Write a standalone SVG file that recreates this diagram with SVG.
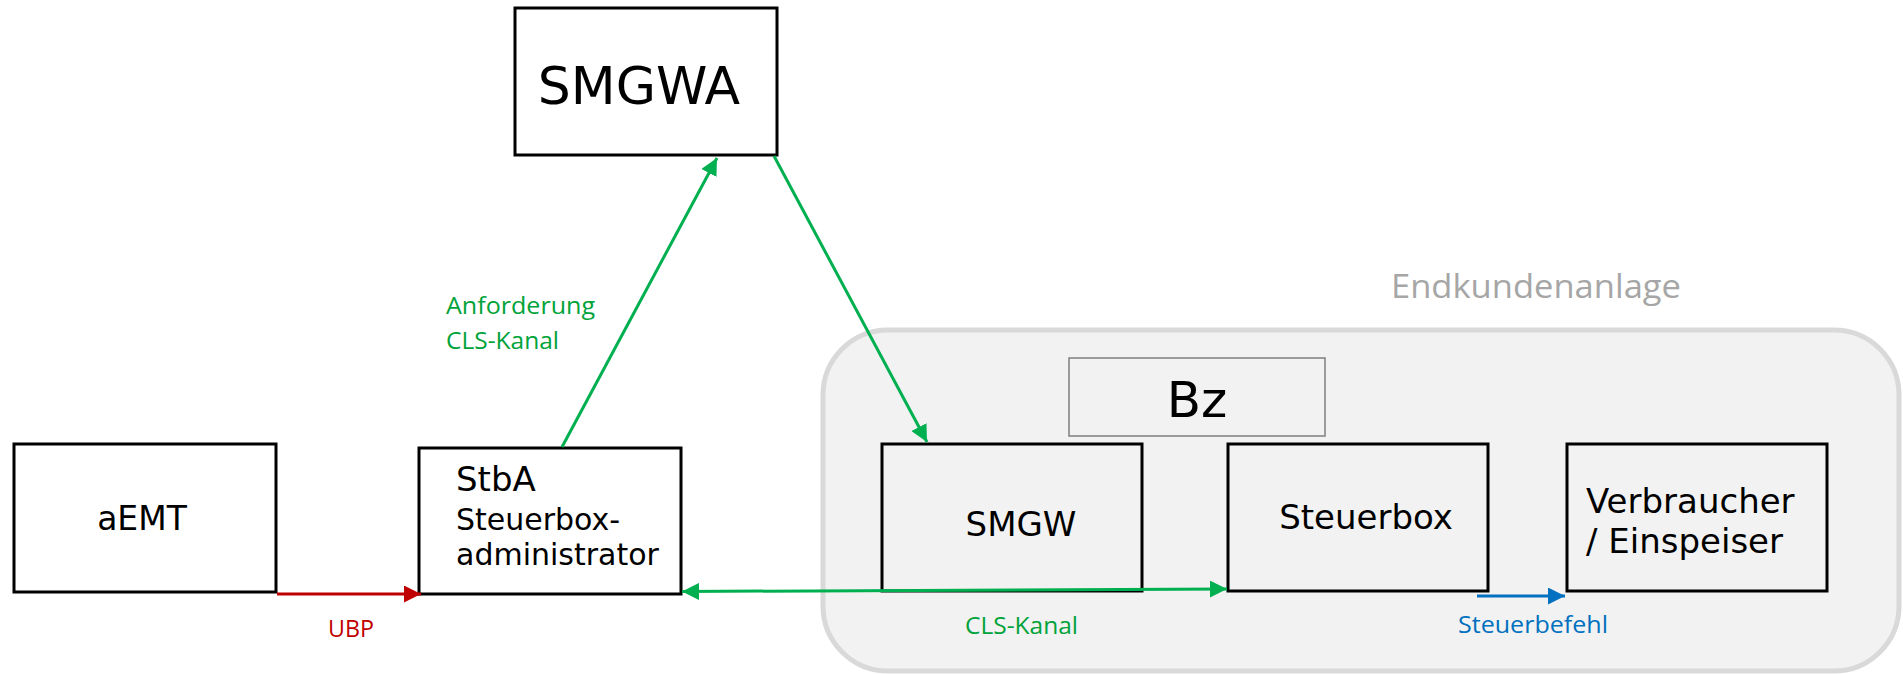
<svg xmlns="http://www.w3.org/2000/svg" width="1903" height="674" viewBox="0 0 1903 674">
<style>
.box{stroke:#000;stroke-width:3;}
.white{fill:#fff;}
.grey{fill:#f2f2f2;}
.nt{font-family:"DejaVu Sans",Verdana,sans-serif;fill:#000;}
.lbl{font-family:"Open Sans","Noto Sans",sans-serif;font-size:24px;}
.g{fill:#00a33a;}
.gl{stroke:#00b050;stroke-width:3;fill:none;}
</style>
<defs>
<marker id="ag" markerUnits="userSpaceOnUse" markerWidth="17" markerHeight="17" refX="16" refY="8" orient="auto-start-reverse" viewBox="0 0 16 16"><path d="M0,0 L16,8 L0,16 z" fill="#00b050"/></marker>
<marker id="ar" markerUnits="userSpaceOnUse" markerWidth="17" markerHeight="17" refX="16" refY="8" orient="auto" viewBox="0 0 16 16"><path d="M0,0 L16,8 L0,16 z" fill="#c00000"/></marker>
<marker id="ab" markerUnits="userSpaceOnUse" markerWidth="17" markerHeight="17" refX="16" refY="8" orient="auto" viewBox="0 0 16 16"><path d="M0,0 L16,8 L0,16 z" fill="#0070c0"/></marker>
</defs>

<g id="endkundenanlage">
<rect x="823" y="330" width="1076" height="341" rx="65" ry="65" fill="#f2f2f2" stroke="#d9d9d9" stroke-width="5"/>
<text x="1391" y="298" font-family="'Open Sans','Noto Sans',sans-serif" font-size="32" fill="#a6a6a6" textLength="290" lengthAdjust="spacingAndGlyphs">Endkundenanlage</text>
</g>

<g id="smgwa">
<rect class="box white" x="515" y="8" width="262" height="147"/>
<text class="nt" x="639" y="104" font-size="52" text-anchor="middle">SMGWA</text>
</g>

<g id="aemt">
<rect class="box white" x="14" y="444" width="262" height="148"/>
<text class="nt" x="142" y="530" font-size="33" text-anchor="middle">aEMT</text>
</g>

<g id="stba">
<rect class="box white" x="419" y="448" width="262" height="146"/>
<text class="nt" x="456" y="491" font-size="34">StbA</text>
<text class="nt" x="456" y="530" font-size="30">Steuerbox-</text>
<text class="nt" x="456" y="565" font-size="30">administrator</text>
</g>

<g id="bz">
<rect x="1069" y="358" width="256" height="78" fill="#f2f2f2" stroke="#7f7f7f" stroke-width="1.5"/>
<text class="nt" x="1197" y="417" font-size="50" text-anchor="middle">Bz</text>
</g>

<g id="smgw">
<rect class="box grey" x="882" y="444" width="260" height="147"/>
<text class="nt" x="1021" y="536" font-size="34" text-anchor="middle">SMGW</text>
</g>

<g id="steuerbox">
<rect class="box grey" x="1228" y="444" width="260" height="147"/>
<text class="nt" x="1366" y="529" font-size="34" text-anchor="middle">Steuerbox</text>
</g>

<g id="verbraucher">
<rect class="box grey" x="1567" y="444" width="260" height="147"/>
<text class="nt" x="1586" y="513" font-size="34">Verbraucher</text>
<text class="nt" x="1586" y="553" font-size="34">/ Einspeiser</text>
</g>

<g id="connectors">
<line x1="277" y1="594" x2="421" y2="594" stroke="#c00000" stroke-width="3" marker-end="url(#ar)"/>
<line class="gl" x1="562" y1="447" x2="717" y2="158" marker-end="url(#ag)"/>
<line class="gl" x1="774" y1="156" x2="927" y2="442" marker-end="url(#ag)"/>
<line class="gl" x1="682" y1="591.5" x2="1227" y2="589" marker-start="url(#ag)" marker-end="url(#ag)"/>
<line x1="1477" y1="596" x2="1565" y2="596" stroke="#0070c0" stroke-width="3" marker-end="url(#ab)"/>
<text class="lbl" x="328" y="637" fill="#c00000" textLength="46" lengthAdjust="spacingAndGlyphs">UBP</text>
<text class="lbl g" x="446" y="314" font-size="25" textLength="149" lengthAdjust="spacingAndGlyphs">Anforderung</text>
<text class="lbl g" x="446" y="349" font-size="25" textLength="113" lengthAdjust="spacingAndGlyphs">CLS-Kanal</text>
<text class="lbl g" x="965" y="634" textLength="113" lengthAdjust="spacingAndGlyphs">CLS-Kanal</text>
<text class="lbl" x="1458" y="633" fill="#0070c0" textLength="150" lengthAdjust="spacingAndGlyphs">Steuerbefehl</text>
</g>
</svg>
